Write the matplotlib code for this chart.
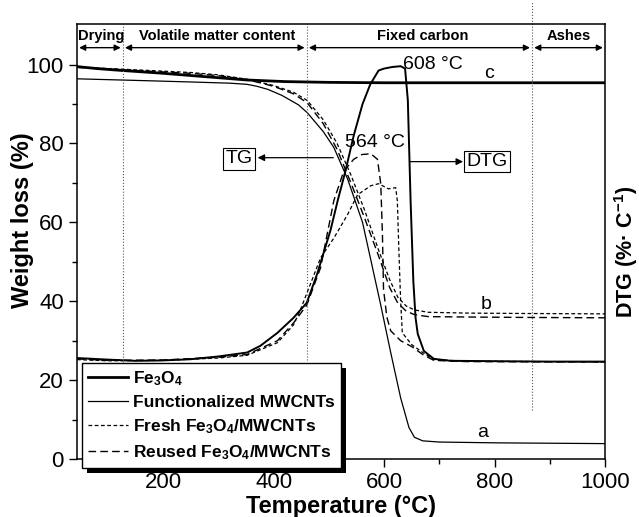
import matplotlib
matplotlib.use("Agg")
import matplotlib.pyplot as plt
from matplotlib.patches import Rectangle

plt.rcParams['font.family'] = ['Liberation Sans', 'DejaVu Sans']
plt.rcParams['mathtext.fontset'] = 'custom'
plt.rcParams['mathtext.rm'] = 'Liberation Sans'
plt.rcParams['mathtext.bf'] = 'Liberation Sans:bold'
plt.rcParams['mathtext.default'] = 'bf'

# ---------------- data ----------------
temp_fe3o4 = [44, 80, 127, 200, 280, 352, 420, 500, 600, 800, 1000]
tg_fe3o4 = [99.5, 99.0, 98.5, 97.8, 96.9, 96.1, 95.7, 95.5, 95.4, 95.4, 95.4]

temp_mwcnt = [44, 150, 250, 320, 352, 370, 390, 415, 445, 461, 490, 509, 534,
              561, 594, 612, 630, 645, 655, 670, 700, 800, 900, 1000]
tg_mwcnt = [96.4, 96.0, 95.6, 95.3, 95.0, 94.5, 93.7, 92.2, 89.8, 87.8, 83.0,
            79.0, 71.0, 60.0, 39.0, 27.0, 15.5, 8.0, 5.5, 4.6, 4.3, 4.1, 4.0,
            3.9]

temp_tg_b = [44, 100, 178, 250, 300, 352, 400, 436, 461, 490, 515, 540, 565,
             590, 610, 625, 640, 655, 680, 750, 850, 1000]
tg_fresh = [99.4, 99.0, 98.5, 98.0, 97.4, 96.3, 94.7, 93.0, 90.9, 86.0, 80.0,
            72.0, 63.0, 53.0, 45.5, 41.0, 38.8, 37.8, 37.2, 37.0, 36.9, 36.8]
tg_reused = [99.3, 98.9, 98.3, 97.8, 97.2, 96.2, 94.5, 92.6, 90.3, 85.0, 78.5,
             70.0, 61.0, 51.5, 43.5, 39.5, 37.5, 36.6, 36.1, 36.0, 35.9, 35.8]

temp_dtg_mwcnt = [44, 100, 150, 200, 250, 300, 352, 376, 407, 436, 460, 479,
                  503, 516, 530, 545, 561, 575, 590, 600, 615, 630, 638, 643,
                  648, 653, 657, 661, 672, 690, 720, 800, 900, 1000]
dtg_mwcnt = [25.6, 25.2, 24.9, 25.0, 25.3, 26.0, 27.0, 28.7, 32.0, 35.8, 39.6,
             47.0, 58.0, 65.5, 73.0, 82.0, 90.0, 95.0, 98.5, 99.0, 99.4, 99.6,
             99.0, 91.0, 65.5, 45.0, 35.8, 31.7, 27.4, 25.4, 24.9, 24.8, 24.7,
             24.7]

temp_dtg_reused = [44, 100, 200, 300, 352, 407, 436, 460, 485, 509, 527, 545,
                   560, 576, 588, 594, 597, 599, 605, 612, 630, 650, 670, 690,
                   750, 1000]
dtg_reused = [25.4, 25.0, 25.1, 25.8, 26.5, 30.0, 34.5, 39.0, 48.5, 65.5, 73.0,
              76.0, 77.2, 77.4, 76.0, 69.8, 57.0, 43.0, 36.0, 32.5, 30.0, 28.5,
              26.5, 25.0, 24.7, 24.6]

temp_dtg_fresh = [44, 100, 200, 300, 352, 407, 436, 449, 485, 509, 534, 552,
                  576, 590, 608, 621, 624, 627, 630, 633, 650, 670, 690, 750,
                  1000]
dtg_fresh = [25.2, 24.9, 25.0, 25.6, 26.3, 29.5, 34.0, 38.0, 51.0, 56.0, 62.0,
             67.0, 69.3, 69.8, 68.5, 68.8, 65.5, 52.0, 40.0, 32.0, 29.0, 27.0,
             25.2, 24.8, 24.6]

series_labels = ["Fe$_3$O$_4$", "Functionalized MWCNTs",
                 "Fresh Fe$_3$O$_4$/MWCNTs", "Reused Fe$_3$O$_4$/MWCNTs"]

phase_bounds = [44, 127, 460, 868, 1000]
phase_names = ["Drying", "Volatile matter content", "Fixed carbon", "Ashes"]
phase_label_x = [87, 298, 670, 934]

x_ticks = [200, 400, 600, 800, 1000]
y_ticks = [0, 20, 40, 60, 80, 100]

# ---------------- figure ----------------
fig = plt.figure(figsize=(6.39, 5.17), dpi=100)
ax = fig.add_axes([77 / 639, 1 - 459 / 517, 528 / 639, 435 / 517])
ax.set_xlim(44, 1000)
ax.set_ylim(0, 110.3)

fresh_dash = (0, (3.0, 2.0))
reused_dash = (0, (5.5, 3.0))

l1, = ax.plot(temp_fe3o4, tg_fe3o4, color='black', lw=2.0)
l2, = ax.plot(temp_mwcnt, tg_mwcnt, color='black', lw=0.9)
l3, = ax.plot(temp_tg_b, tg_fresh, color='black', lw=0.9, ls=fresh_dash)
l4, = ax.plot(temp_tg_b, tg_reused, color='black', lw=1.0, ls=reused_dash)
ax.plot(temp_dtg_mwcnt, dtg_mwcnt, color='black', lw=1.4)
ax.plot(temp_dtg_fresh, dtg_fresh, color='black', lw=0.9, ls=fresh_dash)
ax.plot(temp_dtg_reused, dtg_reused, color='black', lw=1.0, ls=reused_dash)

# vertical dotted phase boundaries
ax.plot([127, 127], [23.5, 110.3], color='0.35', lw=0.8, ls=':')
ax.plot([460, 460], [25.0, 110.3], color='0.35', lw=0.8, ls=':')
ax.plot([868, 868], [12.4, 116.0], color='0.35', lw=0.8, ls=':', clip_on=False)

# phase header arrows and labels
for i in range(4):
    ax.annotate('', xy=(phase_bounds[i], 104.3), xytext=(phase_bounds[i + 1], 104.3),
                arrowprops=dict(arrowstyle='<|-|>', color='black', lw=1.0,
                                shrinkA=1.5, shrinkB=1.5, mutation_scale=9))
    ax.text(phase_label_x[i], 107.3, phase_names[i], ha='center', va='center',
            fontsize=10.5, fontweight='bold')

# annotations
ax.text(634, 100.1, "608 °C", ha='left', va='center', fontsize=14)
ax.text(530, 80.2, "564 °C", ha='left', va='center', fontsize=14)
ax.text(790, 97.8, "c", ha='center', va='center', fontsize=14)
ax.text(784, 39.1, "b", ha='center', va='center', fontsize=14)
ax.text(779, 6.8, "a", ha='center', va='center', fontsize=14)

box = dict(boxstyle='square,pad=0.12', fc='white', ec='black', lw=0.8)
ax.text(338, 76.1, "TG", ha='center', va='center', fontsize=14, bbox=box)
ax.text(786, 75.4, "DTG", ha='center', va='center', fontsize=14, bbox=box)
ax.annotate('', xy=(371, 76.4), xytext=(508, 76.4),
            arrowprops=dict(arrowstyle='-|>', color='black', lw=0.9,
                            shrinkA=0, shrinkB=0, mutation_scale=10))
ax.annotate('', xy=(743, 75.4), xytext=(646, 75.4),
            arrowprops=dict(arrowstyle='-|>', color='black', lw=0.9,
                            shrinkA=0, shrinkB=0, mutation_scale=10))

# ticks
ax.set_xticks(x_ticks)
ax.set_xticks([100, 300, 500, 700, 900], minor=True)
ax.set_yticks(y_ticks)
ax.set_yticks([10, 30, 50, 70, 90], minor=True)
ax.tick_params(axis='both', which='major', direction='out', length=6, width=1,
               labelsize=16, top=False, right=False)
ax.tick_params(axis='both', which='minor', direction='out', length=3.5, width=1,
               top=False, right=False)
for s in ax.spines.values():
    s.set_linewidth(1.1)

fig.text(341 / 639, 1 - 507 / 517, "Temperature (°C)", ha='center', va='center',
         fontsize=17, fontweight='bold')
fig.text(23 / 639, 1 - 220 / 517, "Weight loss (%)", ha='center', va='center',
         rotation=90, fontsize=17, fontweight='bold')
fig.text(626 / 639, 1 - 252 / 517, "DTG (%· C$^{-1}$)", ha='center', va='center',
         rotation=90, fontsize=15.5, fontweight='bold')

# legend
leg = ax.legend([l1, l2, l3, l4], series_labels, loc='lower left',
                bbox_to_anchor=(0.0095, -0.021), borderaxespad=0,
                fancybox=False, framealpha=1, edgecolor='black',
                prop={'weight': 'bold', 'size': 12.5}, handlelength=2.3,
                handletextpad=0.3, labelspacing=0.42, borderpad=0.35)
leg.get_frame().set_linewidth(1.0)
leg.set_zorder(10)

fig.canvas.draw()
bb = leg.get_window_extent().transformed(fig.transFigure.inverted())
off_x, off_y = 5 / 639, 5 / 517
shadow = Rectangle((bb.x0 + off_x, bb.y0 - off_y), bb.width, bb.height,
                   transform=fig.transFigure, facecolor='black', edgecolor='none',
                   zorder=9)
ax.add_artist(shadow)
shadow.set_clip_path(None)
shadow.set_clip_on(False)

fig.savefig("out.png", dpi=100)
